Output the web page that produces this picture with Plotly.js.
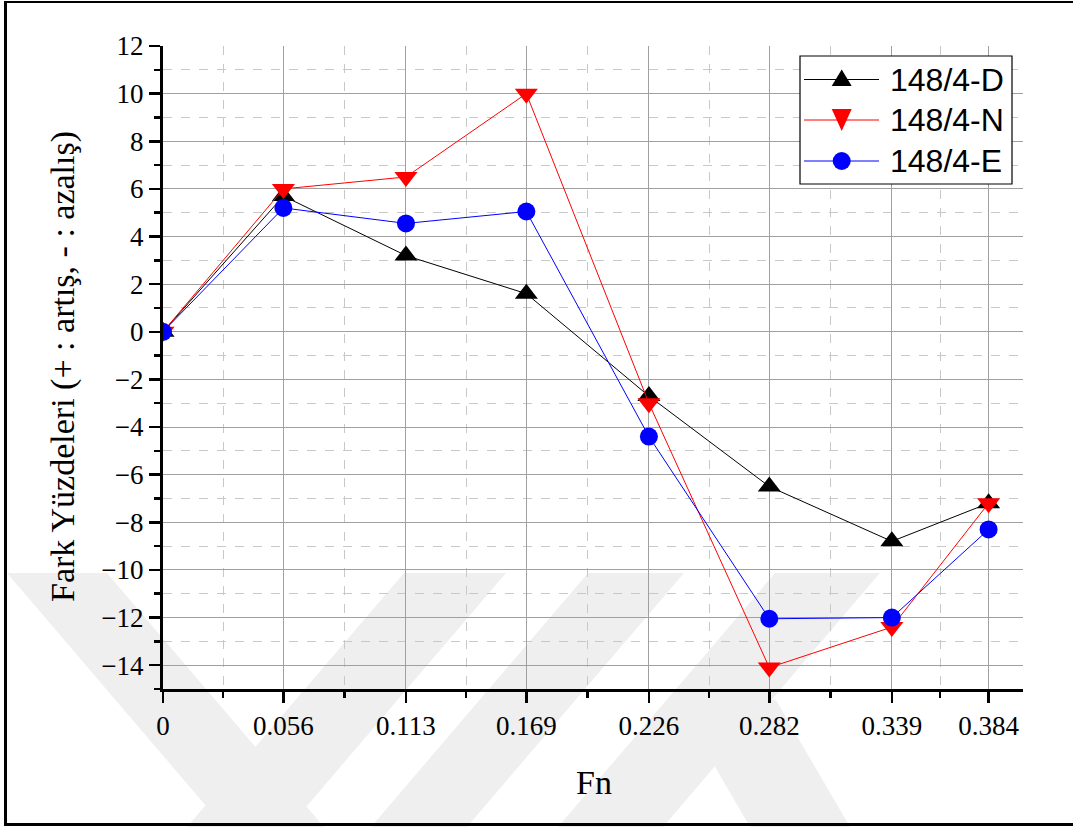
<!DOCTYPE html>
<html>
<head>
<meta charset="utf-8">
<script src="https://cdn.plot.ly/plotly-3.0.1.min.js"></script>
<style>
html,body{margin:0;padding:0;background:#fff;overflow:hidden;}
#wrap{position:relative;width:1073px;height:827px;overflow:hidden;}
#chart{width:1073px;height:827px;}
#frame{position:absolute;left:4px;top:1px;width:1080px;height:820px;border-left:3px solid #000;border-top:2px solid #000;border-bottom:3px solid #000;pointer-events:none;}
</style>
</head>
<body>
<div id="wrap"><div id="chart"></div><div id="frame"></div></div>
<script>
const fn = [0, 0.056, 0.113, 0.169, 0.226, 0.282, 0.339, 0.384];
const tickLabels = ["0", "0.056", "0.113", "0.169", "0.226", "0.282", "0.339", "0.384"];
const seriesD = [0, 5.7, 3.2, 1.6, -2.7, -6.5, -8.8, -7.2];
const seriesN = [0, 6.0, 6.5, 10.0, -3.0, -14.1, -12.4, -7.2];
const seriesE = [0, 5.2, 4.55, 5.05, -4.4, -12.05, -12.0, -8.3];
const names = ["148/4-D", "148/4-N", "148/4-E"];
const colors = ["#000000", "#ff0000", "#0000ff"];
const yTitle = "Fark Yüzdeleri (+ : artış, - : azalış)";
const xTitle = "Fn";

const minorX = [];
for (let i = 0; i < fn.length - 1; i++) minorX.push((fn[i] + fn[i + 1]) / 2);

const serif = "Liberation Serif, Times New Roman, serif";
const sans = "Liberation Sans, Arial, sans-serif";
const traces = [
  {x: fn, y: seriesD, name: names[0], mode: "lines+markers", line: {color: colors[0], width: 1},
   marker: {symbol: "triangle-up", size: 20, color: colors[0]}},
  {x: fn, y: seriesN, name: names[1], mode: "lines+markers", line: {color: colors[1], width: 1},
   marker: {symbol: "triangle-down", size: 20, color: colors[1]}},
  {x: fn, y: seriesE, name: names[2], mode: "lines+markers", line: {color: colors[2], width: 1},
   marker: {symbol: "circle", size: 18, color: colors[2]}}
];

// plot area in pixels: left 163, right 1023, top 46, bottom 689
const L = 163, R = 1023, T = 46, B = 689;
const px = v => (v - L) / (R - L);
const py = v => (B - v) / (B - T);
function pathPx(pts) {
  return "M" + pts.map(p => px(p[0]).toFixed(5) + "," + py(p[1]).toFixed(5)).join(" L") + " Z";
}

const shapes = [];
const annotations = [];

// faint background watermark (decorative bands)
const wm = "#efefef";
const bands = [
  [[7, 573], [107, 573], [324, 827], [224, 827]],
  [[404, 573], [506, 573], [289, 827], [187, 827]],
  [[588, 573], [684, 573], [467, 827], [371, 827]],
  [[775, 573], [880, 573], [663, 827], [558, 827]],
  [[676, 700], [776, 700], [850, 827], [750, 827]]
];
bands.forEach(b => shapes.push({type: "path", xref: "paper", yref: "paper", path: pathPx(b),
  fillcolor: wm, line: {width: 0}, layer: "below"}));

// custom legend (box, line samples, symbols, labels)
shapes.push({type: "rect", xref: "paper", yref: "paper", x0: px(800), x1: px(1012), y0: py(184), y1: py(56),
  fillcolor: "#fff", line: {color: "#000", width: 1.2}, layer: "above"});
const rowY = [79.5, 120, 161];
rowY.forEach((ry, i) => {
  shapes.push({type: "line", xref: "paper", yref: "paper", x0: px(804), x1: px(879), y0: py(ry), y1: py(ry),
    line: {color: colors[i], width: 1}, layer: "above"});
  annotations.push({xref: "paper", yref: "paper", x: px(888), y: py(ry), xanchor: "left", yanchor: "middle",
    text: names[i], showarrow: false, font: {family: sans, size: 32, color: "#000"}});
});
const cx = 841.7;
shapes.push({type: "path", xref: "paper", yref: "paper", path: pathPx([[cx - 10, 86], [cx + 10, 86], [cx, 69.5]]),
  fillcolor: colors[0], line: {width: 0}, layer: "above"});
shapes.push({type: "path", xref: "paper", yref: "paper", path: pathPx([[cx - 10, 109], [cx + 10, 109], [cx, 131]]),
  fillcolor: colors[1], line: {width: 0}, layer: "above"});
shapes.push({type: "circle", xref: "paper", yref: "paper", x0: px(cx - 9), x1: px(cx + 9), y0: py(170), y1: py(152),
  fillcolor: colors[2], line: {width: 0}, layer: "above"});

// axis titles
annotations.push({xref: "paper", yref: "paper", x: px(63), y: py(367), xanchor: "center", yanchor: "middle",
  textangle: -90, text: yTitle, showarrow: false, font: {family: serif, size: 34, color: "#000"}});
annotations.push({xref: "paper", yref: "paper", x: px(594), y: py(783), xanchor: "center", yanchor: "middle",
  text: xTitle, showarrow: false, font: {family: serif, size: 34, color: "#000"}});

const layout = {
  width: 1073, height: 827,
  margin: {l: L, r: 1073 - R, t: T, b: 827 - B},
  paper_bgcolor: "#fff", plot_bgcolor: "rgba(0,0,0,0)",
  showlegend: false,
  shapes: shapes,
  annotations: annotations,
  xaxis: {
    range: [0, 0.4], tickmode: "array", tickvals: fn, ticktext: tickLabels,
    ticks: "outside", ticklen: 11, tickwidth: 2.5, tickcolor: "#000",
    showline: true, linecolor: "#000", linewidth: 3, mirror: false,
    showgrid: true, gridcolor: "#a0a0a0", gridwidth: 1, zeroline: false,
    tickfont: {family: serif, size: 27, color: "#000"},
    minor: {tickmode: "array", tickvals: minorX, ticks: "outside", ticklen: 6, tickwidth: 2.5, tickcolor: "#000",
      showgrid: true, gridcolor: "#c8c8c8", griddash: "dash", gridwidth: 1}
  },
  yaxis: {
    range: [-15, 12], tickmode: "linear", tick0: 0, dtick: 2,
    ticks: "outside", ticklen: 11, tickwidth: 2.5, tickcolor: "#000",
    showline: true, linecolor: "#000", linewidth: 3, mirror: false,
    showgrid: true, gridcolor: "#a0a0a0", gridwidth: 1, zeroline: false,
    tickfont: {family: serif, size: 27, color: "#000"},
    minor: {dtick: 1, ticks: "outside", ticklen: 6, tickwidth: 2.5, tickcolor: "#000",
      showgrid: true, gridcolor: "#c8c8c8", griddash: "dash", gridwidth: 1}
  }
};

Plotly.newPlot("chart", traces, layout, {displayModeBar: false, staticPlot: true});
</script>
</body>
</html>
